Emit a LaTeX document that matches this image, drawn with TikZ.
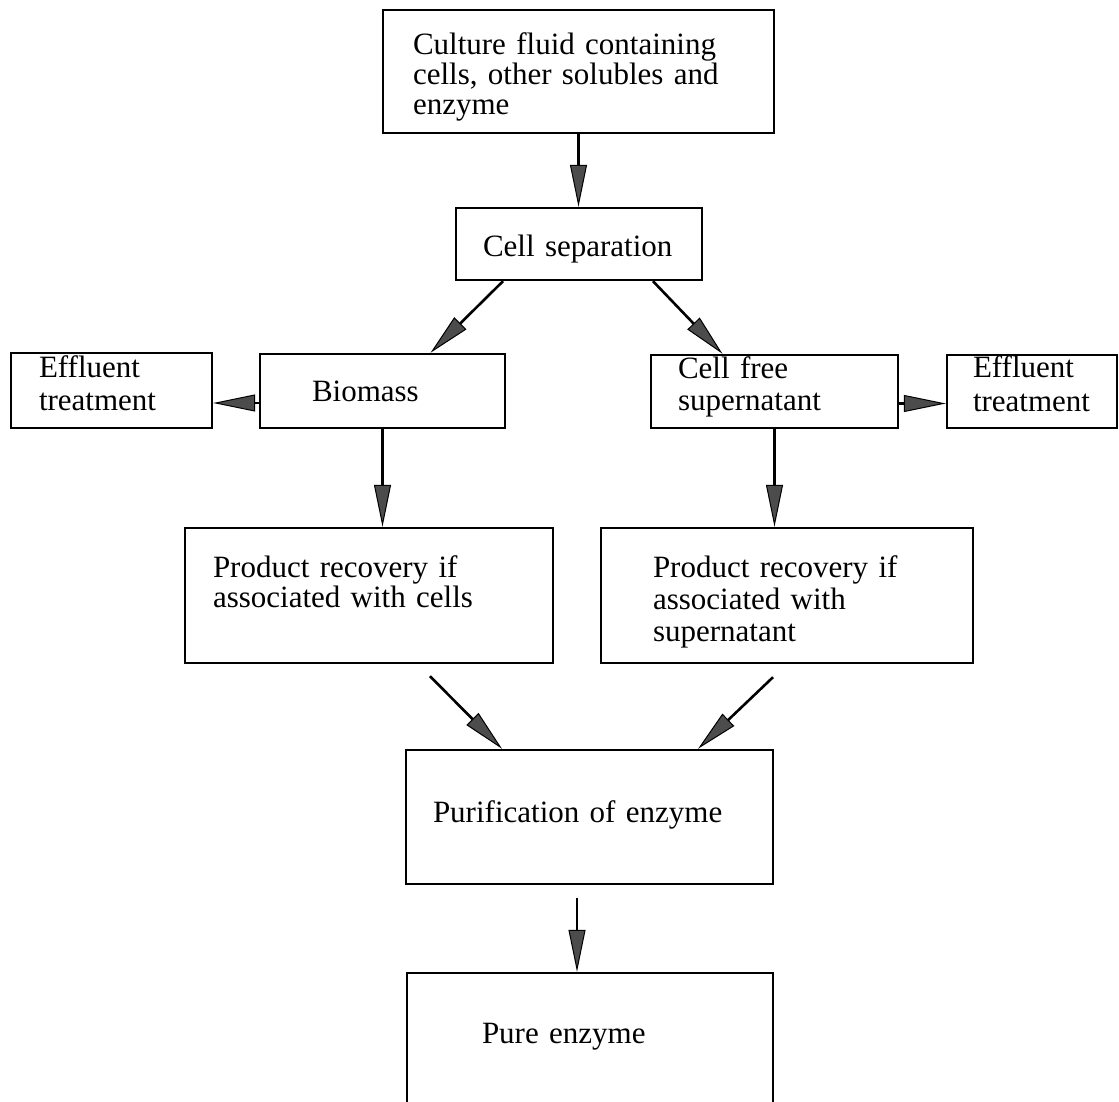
\documentclass[tikz,border=0pt]{standalone}
\usepackage{fontspec}
\setmainfont{Liberation Serif}
\usetikzlibrary{arrows.meta}
\tikzset{
  stage/.style={draw, line width=2.4pt, align=left, inner ysep=0pt,
    font=\fontsize{31}{32}\selectfont},
  vpos/.style 2 args={text height=#1, text depth=#2},
  flow/.style={line width=2.6pt,
    -{Triangle[length=42pt,width=17pt,fill=black!70,line width=1pt]}},
}
\begin{document}
\begin{tikzpicture}[x=1pt,y=-1pt]
  \useasboundingbox (0,0) rectangle (1119,1102);

  \path
  (578.5,71.5) node[stage,vpos={45pt}{78pt},inner xsep=30pt,text width=331pt,
    font=\fontsize{31}{30}\selectfont] (culture)
    {Culture fluid containing\\cells, other solubles and\\enzyme}
  (579,244) node[stage,vpos={48pt}{24pt},inner xsep=27pt,text width=192pt] (cellsep)
    {Cell separation}
  ;

  \path
  (382.5,391) node[stage,vpos={47pt}{27pt},inner xsep=52pt,text width=141pt] (biomass)
    {Biomass}
  (111.5,390.5) node[stage,vpos={24pt}{51pt},inner xsep=28pt,text width=145pt,
    font=\fontsize{31}{33}\selectfont] (efflL)
    {Effluent\\treatment}
  (774.5,391.5) node[stage,vpos={23pt}{50pt},inner xsep=27pt,text width=193pt] (cellfree)
    {Cell free\\supernatant}
  (1032,391.5) node[stage,vpos={22pt}{51pt},inner xsep=26pt,text width=118pt,
    font=\fontsize{31}{34}\selectfont] (efflR)
    {Effluent\\treatment}
  ;

  \path
  (369,595.5) node[stage,vpos={49pt}{86pt},inner xsep=28pt,text width=312pt,
    font=\fontsize{31}{30}\selectfont] (reccells)
    {Product recovery if\\associated with cells}
  (787,595.5) node[stage,vpos={49pt}{86pt},inner xsep=52pt,text width=268pt] (recsup)
    {Product recovery if\\associated with\\supernatant}
  ;

  \path
  (589.5,817) node[stage,vpos={72pt}{62pt},inner xsep=27pt,text width=313pt] (purif)
    {Purification of enzyme}
  (590,1041.5) node[stage,vpos={70pt}{67pt},inner xsep=75pt,text width=216pt] (pure)
    {Pure enzyme}
  ;

  \draw[flow] (culture.south) -- (culture.south |- cellsep.north);
  \draw[flow] ([xshift=-76pt]cellsep.south) -- ([xshift=48pt]biomass.north);
  \draw[flow] ([xshift=74pt]cellsep.south) -- ([xshift=-52pt]cellfree.north);

  \draw[flow] ([yshift=-12pt]biomass.west) -- ([yshift=-12pt]biomass.west -| efflL.east);
  \draw[flow] ([yshift=-12pt]cellfree.east) -- ([yshift=-12pt]cellfree.east -| efflR.west);

  \draw[flow] (biomass.south) -- (biomass.south |- reccells.north);
  \draw[flow] (cellfree.south) -- (cellfree.south |- recsup.north);

  \draw[flow] ([xshift=61pt,yshift=-12pt]reccells.south) -- ([xshift=-87.5pt]purif.north);
  \draw[flow] ([xshift=-14pt,yshift=-13pt]recsup.south) -- ([xshift=108.5pt]purif.north);

  \draw[flow] ([xshift=-12.5pt,yshift=-13pt]purif.south) -- ([xshift=-12.5pt]purif.south |- pure.north);
\end{tikzpicture}
\end{document}
